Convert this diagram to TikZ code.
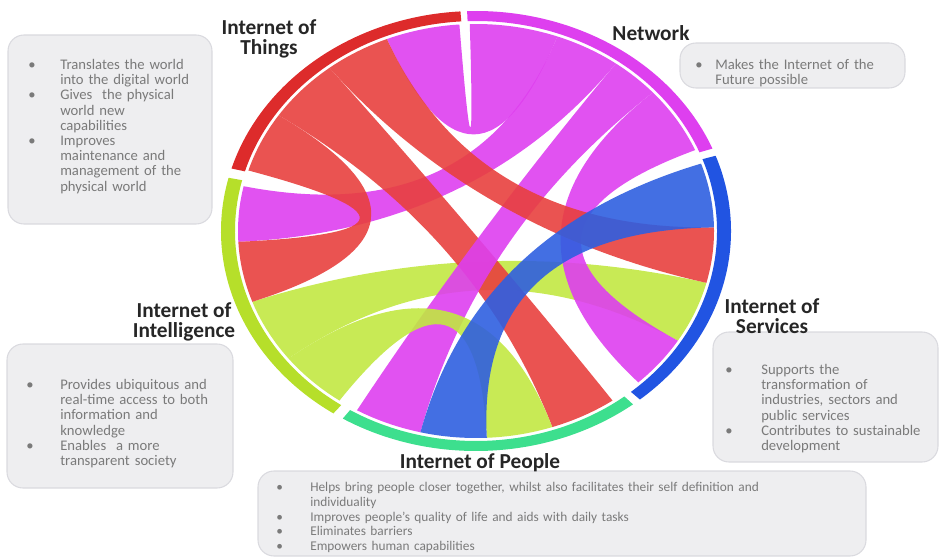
\documentclass[tikz,border=0pt]{standalone}
\usepackage{fontspec}
\setmainfont{Carlito}
\usepackage{tikz}

\definecolor{iotred}{HTML}{E8403E}
\definecolor{iotring}{HTML}{DD2B2B}
\definecolor{netmag}{HTML}{DE3FEF}
\definecolor{intgreen}{HTML}{C2E842}
\definecolor{intring}{HTML}{B6DF2A}
\definecolor{pplteal}{HTML}{3DDF8E}
\definecolor{srvblue}{HTML}{2F5FE0}
\definecolor{srvring}{HTML}{2154E2}
\definecolor{boxfill}{HTML}{EEEEF0}
\definecolor{boxline}{HTML}{DADADF}
\definecolor{boxtext}{HTML}{7A7A7A}

\newlength{\bulind}
\newcommand{\bul}[1]{\par\hangindent=\bulind\hangafter=1\noindent\makebox[\bulind][l]{\textbullet}#1\par}

\newcommand{\ringseg}[3]{%
	\fill[#1] (#2:255 and 220) arc[start angle=#2, end angle=#3, x radius=255, y radius=220]
		-- (#3:241 and 210) arc[start angle=#3, end angle=#2, x radius=241, y radius=210] -- cycle;}

\newcommand{\chord}[5]{%
	\fill[#1, fill opacity=0.9] (#2:238 and 207) arc[start angle=#2, end angle=#3, x radius=238, y radius=207]
		.. controls (#3:79.3 and 69) and (#4:79.3 and 69) .. (#4:238 and 207)
		arc[start angle=#4, end angle=#5, x radius=238, y radius=207]
		.. controls (#5:79.3 and 69) and (#2:79.3 and 69) .. cycle;}

\tikzset{
	grouplabel/.style={font=\fontsize{16}{15}\selectfont\bfseries, text=black!85, align=center, inner sep=0pt},
	infobox/.style={draw=boxline, fill=boxfill, rounded corners=12pt, line width=0.8pt},
	infotext/.style={font=\fontsize{11}{11.4}\selectfont, text=boxtext, align=left, inner sep=0pt, anchor=north west},
}

\begin{document}
\begin{tikzpicture}[x=0.75pt, y=0.75pt]
	\useasboundingbox (0,0) rectangle (941,558);

	\node[infobox, minimum width=153pt, minimum height=141.75pt] (iotbox) at (110, 428.5) {};
	\node[infobox, minimum width=168.75pt, minimum height=33.75pt] (netbox) at (792.5, 492.5) {};
	\node[infobox, minimum width=169.5pt, minimum height=108pt] (intbox) at (120, 142) {};
	\node[infobox, minimum width=168.75pt, minimum height=97.5pt] (srvbox) at (825.5, 161) {};
	\node[infobox, minimum width=456pt, minimum height=63.75pt] (pplbox) at (562, 44.5) {};

	\begin{scope}[shift={(476,327)}]
		\ringseg{iotring}{93.5}{163.5}
		\ringseg{intring}{166}{236}
		\ringseg{pplteal}{238.5}{308}
		\ringseg{srvring}{-50}{20}
		\ringseg{netmag}{22}{92}

		\chord{intgreen}{200}{218}{-32}{-14.5}
		\chord{netmag}{70}{91.5}{94}{112}
		\chord{netmag}{54}{70}{167.5}{183}
		\chord{netmag}{23}{42}{-47}{-32}
		\chord{iotred}{128}{146}{288.7}{305}
		\chord{netmag}{42}{54}{240}{256.5}
		\chord{iotred}{112}{128}{-14.5}{1}
		\chord{iotred}{146}{163}{183}{200}
		\chord{intgreen}{218}{235}{272.6}{288.7}
		\chord{srvblue}{1}{19}{256.5}{272.6}
	\end{scope}

	\node[grouplabel] (iot) at (269, 519.5) {Internet of\\Things};
	\node[grouplabel] (net) at (651, 525) {Network};
	\node[grouplabel] (int) at (184, 236) {Internet of\\Intelligence};
	\node[grouplabel] (srv) at (772, 242) {Internet of\\Services};
	\node[grouplabel] (ppl) at (480, 95) {Internet of People};

	\node[infotext, text width=170pt] (iottext) at (28, 504) {\setlength{\bulind}{24pt}%
		\bul{Translates the world\newline into the digital world}
		\bul{Gives\ \ the physical\newline world new\newline capabilities}
		\bul{Improves\newline maintenance and\newline management of the\newline physical world}};
	\node[infotext, text width=160pt] (nettext) at (695, 504) {\setlength{\bulind}{15pt}%
		\bul{Makes the Internet of the\newline Future possible}};
	\node[infotext, text width=160pt] (inttext) at (26, 184) {\setlength{\bulind}{25.5pt}%
		\bul{Provides ubiquitous and\newline real-time access to both\newline information and\newline knowledge}
		\bul{Enables\ \ a more\newline transparent society}};
	\node[infotext, text width=160pt] (srvtext) at (725, 199) {\setlength{\bulind}{27pt}%
		\bul{Supports the\newline transformation of\newline industries, sectors and\newline public services}
		\bul{Contributes to sustainable\newline development}};
	\node[infotext, text width=440pt, font=\fontsize{10}{11}\selectfont] (ppltext) at (276, 81) {\setlength{\bulind}{25.5pt}%
		\bul{Helps bring people closer together, whilst also facilitates their self definition and\newline individuality}
		\bul{Improves people’s quality of life and aids with daily tasks}
		\bul{Eliminates barriers}
		\bul{Empowers human capabilities}};

\end{tikzpicture}
\end{document}
